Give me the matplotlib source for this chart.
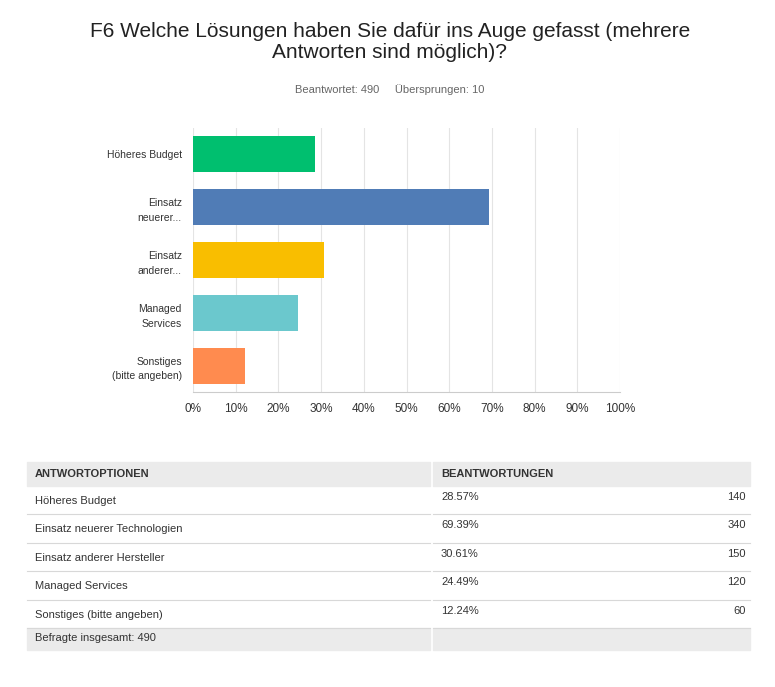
import matplotlib.pyplot as plt
from matplotlib.patches import Rectangle

# data
labels = ["Höheres Budget", "Einsatz\nneuerer...", "Einsatz\nanderer...",
          "Managed\nServices", "Sonstiges\n(bitte angeben)"]
full_labels = ["Höheres Budget", "Einsatz neuerer Technologien", "Einsatz anderer Hersteller",
               "Managed Services", "Sonstiges (bitte angeben)"]
pct = [28.57, 69.39, 30.61, 24.49, 12.24]
counts = [140, 340, 150, 120, 60]
colors = ["#00bf6f", "#507cb6", "#f9be00", "#6bc8cd", "#ff8b4f"]

W, H = 775, 687
fig = plt.figure(figsize=(W / 100, H / 100), dpi=100)
plt.rcParams["font.family"] = "Liberation Sans"

# bar chart
ax = fig.add_axes([193 / W, 1 - 392 / H, (620 - 193) / W, (392 - 128) / H])
y = list(range(len(pct)))
ax.barh(y, pct, height=0.68, color=colors, zorder=2)
ax.set_ylim(len(pct) - 0.5, -0.5)
ax.set_xlim(0, 100)
ax.set_xticks(range(0, 101, 10))
ax.set_xticklabels([f"{v}%" for v in range(0, 101, 10)], fontsize=8.5, color="#333333")
ax.set_yticks(y)
ax.set_yticklabels(labels, fontsize=7.5, color="#333333", linespacing=1.6)
ax.tick_params(length=0, pad=8)
ax.grid(axis="x", color="#e4e4e4", lw=0.8, zorder=0)
for s in ["top", "right", "left"]:
    ax.spines[s].set_visible(False)
ax.spines["bottom"].set_color("#cccccc")

fig.text(390 / W, 1 - 42 / H, "F6 Welche Lösungen haben Sie dafür ins Auge gefasst (mehrere\nAntworten sind möglich)?",
         ha="center", va="center", fontsize=15, color="#222222", linespacing=1.1)
fig.text(390 / W, 1 - 90 / H, "Beantwortet: 490     Übersprungen: 10",
         ha="center", va="center", fontsize=8, color="#666666")

# table overlay
tx = fig.add_axes([0, 0, 1, 1], zorder=-1)
tx.set_xlim(0, W)
tx.set_ylim(H, 0)
tx.axis("off")
gray = "#ebebeb"
tx.add_patch(Rectangle((27, 462), 403, 24, color=gray))
tx.add_patch(Rectangle((433, 462), 317, 24, color=gray))
tx.text(35, 474, "ANTWORTOPTIONEN", fontsize=8, weight="bold", color="#333333", va="center")
tx.text(441, 474, "BEANTWORTUNGEN", fontsize=8, weight="bold", color="#333333", va="center")
row_h = 28.4
for i, (lab, p, c) in enumerate(zip(full_labels, pct, counts)):
    top = 486 + i * row_h
    tx.text(35, top + 15, lab, fontsize=8, color="#333333", va="center")
    tx.text(441, top + 11, f"{p:.2f}%", fontsize=8, color="#333333", va="center")
    tx.text(746, top + 11, str(c), fontsize=8, color="#333333", va="center", ha="right")
    tx.plot([27, 430], [top + row_h, top + row_h], color="#d8d8d8", lw=0.8)
    tx.plot([433, 750], [top + row_h, top + row_h], color="#d8d8d8", lw=0.8)
bt = 486 + 5 * row_h
tx.add_patch(Rectangle((27, bt), 403, 650 - bt, color=gray))
tx.add_patch(Rectangle((433, bt), 317, 650 - bt, color=gray))
tx.text(35, bt + 10, "Befragte insgesamt: 490", fontsize=8, color="#333333", va="center")

fig.savefig("out.png", dpi=100, facecolor="white")
